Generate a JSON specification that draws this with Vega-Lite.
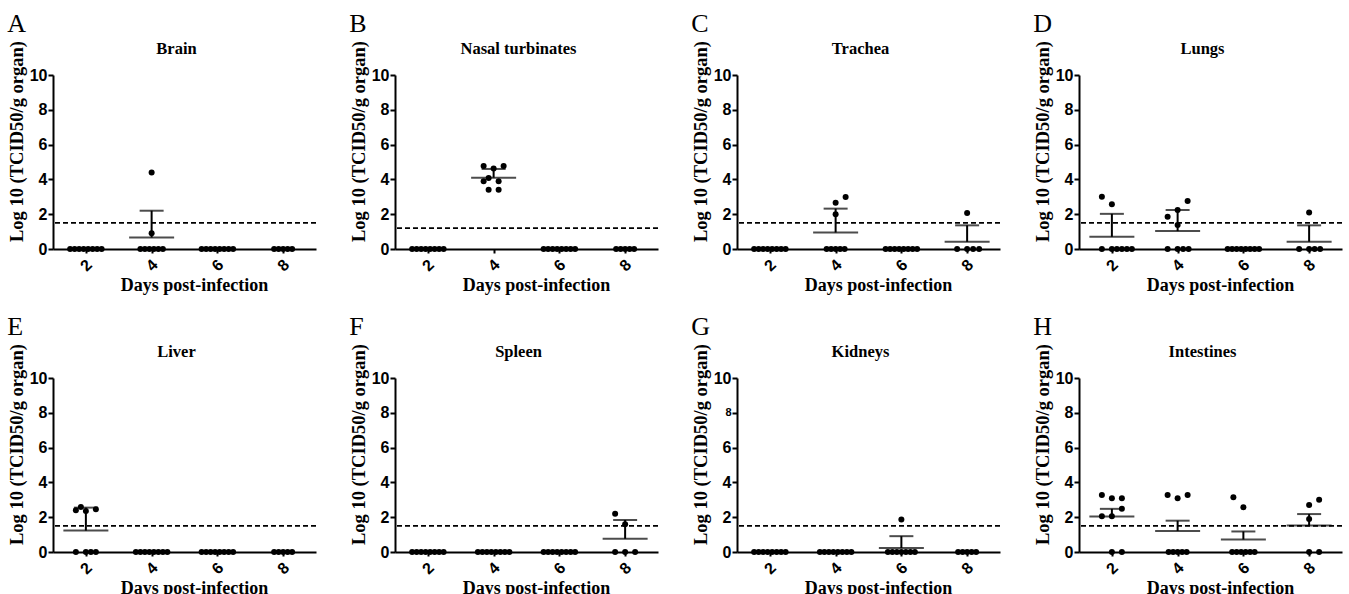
{
"$schema": "https://vega.github.io/schema/vega-lite/v6.json",
"padding": {"left": 7, "top": 10, "right": 5, "bottom": 2},
"background": "white",
"datasets": {
"all": [
{"organ":"Brain","kind":"lod","value":1.5},
{"organ":"Brain","kind":"sum","day":4,"value":0.66,"upper":2.2},
{"organ":"Brain","kind":"pt","day":2,"value":0,"slot":-3.15},{"organ":"Brain","kind":"pt","day":2,"value":0,"slot":-2.25},{"organ":"Brain","kind":"pt","day":2,"value":0,"slot":-1.35},{"organ":"Brain","kind":"pt","day":2,"value":0,"slot":-0.45},{"organ":"Brain","kind":"pt","day":2,"value":0,"slot":0.45},{"organ":"Brain","kind":"pt","day":2,"value":0,"slot":1.35},{"organ":"Brain","kind":"pt","day":2,"value":0,"slot":2.25},{"organ":"Brain","kind":"pt","day":2,"value":0,"slot":3.15},
{"organ":"Brain","kind":"pt","day":4,"value":4.4,"slot":0},{"organ":"Brain","kind":"pt","day":4,"value":0.9,"slot":0},
{"organ":"Brain","kind":"pt","day":4,"value":0,"slot":-2.25},{"organ":"Brain","kind":"pt","day":4,"value":0,"slot":-1.35},{"organ":"Brain","kind":"pt","day":4,"value":0,"slot":-0.45},{"organ":"Brain","kind":"pt","day":4,"value":0,"slot":0.45},{"organ":"Brain","kind":"pt","day":4,"value":0,"slot":1.35},{"organ":"Brain","kind":"pt","day":4,"value":0,"slot":2.25},
{"organ":"Brain","kind":"pt","day":6,"value":0,"slot":-3.15},{"organ":"Brain","kind":"pt","day":6,"value":0,"slot":-2.25},{"organ":"Brain","kind":"pt","day":6,"value":0,"slot":-1.35},{"organ":"Brain","kind":"pt","day":6,"value":0,"slot":-0.45},{"organ":"Brain","kind":"pt","day":6,"value":0,"slot":0.45},{"organ":"Brain","kind":"pt","day":6,"value":0,"slot":1.35},{"organ":"Brain","kind":"pt","day":6,"value":0,"slot":2.25},{"organ":"Brain","kind":"pt","day":6,"value":0,"slot":3.15},
{"organ":"Brain","kind":"pt","day":8,"value":0,"slot":-1.8},{"organ":"Brain","kind":"pt","day":8,"value":0,"slot":-0.9},{"organ":"Brain","kind":"pt","day":8,"value":0,"slot":0},{"organ":"Brain","kind":"pt","day":8,"value":0,"slot":0.9},{"organ":"Brain","kind":"pt","day":8,"value":0,"slot":1.8},

{"organ":"Nasal turbinates","kind":"lod","value":1.2},
{"organ":"Nasal turbinates","kind":"sum","day":4,"value":4.1,"upper":4.6},
{"organ":"Nasal turbinates","kind":"pt","day":2,"value":0,"slot":-3.15},{"organ":"Nasal turbinates","kind":"pt","day":2,"value":0,"slot":-2.25},{"organ":"Nasal turbinates","kind":"pt","day":2,"value":0,"slot":-1.35},{"organ":"Nasal turbinates","kind":"pt","day":2,"value":0,"slot":-0.45},{"organ":"Nasal turbinates","kind":"pt","day":2,"value":0,"slot":0.45},{"organ":"Nasal turbinates","kind":"pt","day":2,"value":0,"slot":1.35},{"organ":"Nasal turbinates","kind":"pt","day":2,"value":0,"slot":2.25},{"organ":"Nasal turbinates","kind":"pt","day":2,"value":0,"slot":3.15},
{"organ":"Nasal turbinates","kind":"pt","day":4,"value":4.77,"slot":-2},{"organ":"Nasal turbinates","kind":"pt","day":4,"value":4.62,"slot":0},{"organ":"Nasal turbinates","kind":"pt","day":4,"value":4.77,"slot":2},{"organ":"Nasal turbinates","kind":"pt","day":4,"value":3.89,"slot":-2},{"organ":"Nasal turbinates","kind":"pt","day":4,"value":4.08,"slot":-1},{"organ":"Nasal turbinates","kind":"pt","day":4,"value":3.89,"slot":1},{"organ":"Nasal turbinates","kind":"pt","day":4,"value":3.41,"slot":-1},{"organ":"Nasal turbinates","kind":"pt","day":4,"value":3.41,"slot":1},
{"organ":"Nasal turbinates","kind":"pt","day":6,"value":0,"slot":-3.15},{"organ":"Nasal turbinates","kind":"pt","day":6,"value":0,"slot":-2.25},{"organ":"Nasal turbinates","kind":"pt","day":6,"value":0,"slot":-1.35},{"organ":"Nasal turbinates","kind":"pt","day":6,"value":0,"slot":-0.45},{"organ":"Nasal turbinates","kind":"pt","day":6,"value":0,"slot":0.45},{"organ":"Nasal turbinates","kind":"pt","day":6,"value":0,"slot":1.35},{"organ":"Nasal turbinates","kind":"pt","day":6,"value":0,"slot":2.25},{"organ":"Nasal turbinates","kind":"pt","day":6,"value":0,"slot":3.15},
{"organ":"Nasal turbinates","kind":"pt","day":8,"value":0,"slot":-1.8},{"organ":"Nasal turbinates","kind":"pt","day":8,"value":0,"slot":-0.9},{"organ":"Nasal turbinates","kind":"pt","day":8,"value":0,"slot":0},{"organ":"Nasal turbinates","kind":"pt","day":8,"value":0,"slot":0.9},{"organ":"Nasal turbinates","kind":"pt","day":8,"value":0,"slot":1.8},

{"organ":"Trachea","kind":"lod","value":1.5},
{"organ":"Trachea","kind":"sum","day":4,"value":0.95,"upper":2.32},
{"organ":"Trachea","kind":"sum","day":8,"value":0.41,"upper":1.36},
{"organ":"Trachea","kind":"pt","day":2,"value":0,"slot":-3.15},{"organ":"Trachea","kind":"pt","day":2,"value":0,"slot":-2.25},{"organ":"Trachea","kind":"pt","day":2,"value":0,"slot":-1.35},{"organ":"Trachea","kind":"pt","day":2,"value":0,"slot":-0.45},{"organ":"Trachea","kind":"pt","day":2,"value":0,"slot":0.45},{"organ":"Trachea","kind":"pt","day":2,"value":0,"slot":1.35},{"organ":"Trachea","kind":"pt","day":2,"value":0,"slot":2.25},{"organ":"Trachea","kind":"pt","day":2,"value":0,"slot":3.15},
{"organ":"Trachea","kind":"pt","day":4,"value":2.99,"slot":2},{"organ":"Trachea","kind":"pt","day":4,"value":2.66,"slot":0},{"organ":"Trachea","kind":"pt","day":4,"value":1.99,"slot":0},
{"organ":"Trachea","kind":"pt","day":4,"value":0,"slot":-1.8},{"organ":"Trachea","kind":"pt","day":4,"value":0,"slot":-0.9},{"organ":"Trachea","kind":"pt","day":4,"value":0,"slot":0},{"organ":"Trachea","kind":"pt","day":4,"value":0,"slot":0.9},{"organ":"Trachea","kind":"pt","day":4,"value":0,"slot":1.8},
{"organ":"Trachea","kind":"pt","day":6,"value":0,"slot":-3.15},{"organ":"Trachea","kind":"pt","day":6,"value":0,"slot":-2.25},{"organ":"Trachea","kind":"pt","day":6,"value":0,"slot":-1.35},{"organ":"Trachea","kind":"pt","day":6,"value":0,"slot":-0.45},{"organ":"Trachea","kind":"pt","day":6,"value":0,"slot":0.45},{"organ":"Trachea","kind":"pt","day":6,"value":0,"slot":1.35},{"organ":"Trachea","kind":"pt","day":6,"value":0,"slot":2.25},{"organ":"Trachea","kind":"pt","day":6,"value":0,"slot":3.15},
{"organ":"Trachea","kind":"pt","day":8,"value":2.07,"slot":0},
{"organ":"Trachea","kind":"pt","day":8,"value":0,"slot":-2},{"organ":"Trachea","kind":"pt","day":8,"value":0,"slot":0},{"organ":"Trachea","kind":"pt","day":8,"value":0,"slot":1.2},{"organ":"Trachea","kind":"pt","day":8,"value":0,"slot":2.4},

{"organ":"Lungs","kind":"lod","value":1.5},
{"organ":"Lungs","kind":"sum","day":2,"value":0.7,"upper":2.02},
{"organ":"Lungs","kind":"sum","day":4,"value":1.03,"upper":2.24},
{"organ":"Lungs","kind":"sum","day":8,"value":0.42,"upper":1.36},
{"organ":"Lungs","kind":"pt","day":2,"value":3.0,"slot":-2},{"organ":"Lungs","kind":"pt","day":2,"value":2.57,"slot":0},
{"organ":"Lungs","kind":"pt","day":2,"value":0,"slot":-2},{"organ":"Lungs","kind":"pt","day":2,"value":0,"slot":0},{"organ":"Lungs","kind":"pt","day":2,"value":0,"slot":1},{"organ":"Lungs","kind":"pt","day":2,"value":0,"slot":2},{"organ":"Lungs","kind":"pt","day":2,"value":0,"slot":3},{"organ":"Lungs","kind":"pt","day":2,"value":0,"slot":4},
{"organ":"Lungs","kind":"pt","day":4,"value":2.76,"slot":2},{"organ":"Lungs","kind":"pt","day":4,"value":2.24,"slot":0},{"organ":"Lungs","kind":"pt","day":4,"value":1.86,"slot":-2},{"organ":"Lungs","kind":"pt","day":4,"value":1.38,"slot":0},
{"organ":"Lungs","kind":"pt","day":4,"value":0,"slot":-2},{"organ":"Lungs","kind":"pt","day":4,"value":0,"slot":0},{"organ":"Lungs","kind":"pt","day":4,"value":0,"slot":1.1},{"organ":"Lungs","kind":"pt","day":4,"value":0,"slot":2.2},
{"organ":"Lungs","kind":"pt","day":6,"value":0,"slot":-3.15},{"organ":"Lungs","kind":"pt","day":6,"value":0,"slot":-2.25},{"organ":"Lungs","kind":"pt","day":6,"value":0,"slot":-1.35},{"organ":"Lungs","kind":"pt","day":6,"value":0,"slot":-0.45},{"organ":"Lungs","kind":"pt","day":6,"value":0,"slot":0.45},{"organ":"Lungs","kind":"pt","day":6,"value":0,"slot":1.35},{"organ":"Lungs","kind":"pt","day":6,"value":0,"slot":2.25},{"organ":"Lungs","kind":"pt","day":6,"value":0,"slot":3.15},
{"organ":"Lungs","kind":"pt","day":8,"value":2.1,"slot":0},
{"organ":"Lungs","kind":"pt","day":8,"value":0,"slot":-2},{"organ":"Lungs","kind":"pt","day":8,"value":0,"slot":0},{"organ":"Lungs","kind":"pt","day":8,"value":0,"slot":1.1},{"organ":"Lungs","kind":"pt","day":8,"value":0,"slot":2.2},

{"organ":"Liver","kind":"lod","value":1.5},
{"organ":"Liver","kind":"sum","day":2,"value":1.23,"upper":2.55},
{"organ":"Liver","kind":"pt","day":2,"value":2.4,"slot":-2},{"organ":"Liver","kind":"pt","day":2,"value":2.59,"slot":-1},{"organ":"Liver","kind":"pt","day":2,"value":2.36,"slot":0},{"organ":"Liver","kind":"pt","day":2,"value":2.46,"slot":2},
{"organ":"Liver","kind":"pt","day":2,"value":0,"slot":-2},{"organ":"Liver","kind":"pt","day":2,"value":0,"slot":0},{"organ":"Liver","kind":"pt","day":2,"value":0,"slot":1},{"organ":"Liver","kind":"pt","day":2,"value":0,"slot":2},
{"organ":"Liver","kind":"pt","day":4,"value":0,"slot":-3.15},{"organ":"Liver","kind":"pt","day":4,"value":0,"slot":-2.25},{"organ":"Liver","kind":"pt","day":4,"value":0,"slot":-1.35},{"organ":"Liver","kind":"pt","day":4,"value":0,"slot":-0.45},{"organ":"Liver","kind":"pt","day":4,"value":0,"slot":0.45},{"organ":"Liver","kind":"pt","day":4,"value":0,"slot":1.35},{"organ":"Liver","kind":"pt","day":4,"value":0,"slot":2.25},{"organ":"Liver","kind":"pt","day":4,"value":0,"slot":3.15},
{"organ":"Liver","kind":"pt","day":6,"value":0,"slot":-3.15},{"organ":"Liver","kind":"pt","day":6,"value":0,"slot":-2.25},{"organ":"Liver","kind":"pt","day":6,"value":0,"slot":-1.35},{"organ":"Liver","kind":"pt","day":6,"value":0,"slot":-0.45},{"organ":"Liver","kind":"pt","day":6,"value":0,"slot":0.45},{"organ":"Liver","kind":"pt","day":6,"value":0,"slot":1.35},{"organ":"Liver","kind":"pt","day":6,"value":0,"slot":2.25},{"organ":"Liver","kind":"pt","day":6,"value":0,"slot":3.15},
{"organ":"Liver","kind":"pt","day":8,"value":0,"slot":-1.8},{"organ":"Liver","kind":"pt","day":8,"value":0,"slot":-0.9},{"organ":"Liver","kind":"pt","day":8,"value":0,"slot":0},{"organ":"Liver","kind":"pt","day":8,"value":0,"slot":0.9},{"organ":"Liver","kind":"pt","day":8,"value":0,"slot":1.8},

{"organ":"Spleen","kind":"lod","value":1.5},
{"organ":"Spleen","kind":"sum","day":8,"value":0.76,"upper":1.84},
{"organ":"Spleen","kind":"pt","day":2,"value":0,"slot":-3.15},{"organ":"Spleen","kind":"pt","day":2,"value":0,"slot":-2.25},{"organ":"Spleen","kind":"pt","day":2,"value":0,"slot":-1.35},{"organ":"Spleen","kind":"pt","day":2,"value":0,"slot":-0.45},{"organ":"Spleen","kind":"pt","day":2,"value":0,"slot":0.45},{"organ":"Spleen","kind":"pt","day":2,"value":0,"slot":1.35},{"organ":"Spleen","kind":"pt","day":2,"value":0,"slot":2.25},{"organ":"Spleen","kind":"pt","day":2,"value":0,"slot":3.15},
{"organ":"Spleen","kind":"pt","day":4,"value":0,"slot":-3.15},{"organ":"Spleen","kind":"pt","day":4,"value":0,"slot":-2.25},{"organ":"Spleen","kind":"pt","day":4,"value":0,"slot":-1.35},{"organ":"Spleen","kind":"pt","day":4,"value":0,"slot":-0.45},{"organ":"Spleen","kind":"pt","day":4,"value":0,"slot":0.45},{"organ":"Spleen","kind":"pt","day":4,"value":0,"slot":1.35},{"organ":"Spleen","kind":"pt","day":4,"value":0,"slot":2.25},{"organ":"Spleen","kind":"pt","day":4,"value":0,"slot":3.15},
{"organ":"Spleen","kind":"pt","day":6,"value":0,"slot":-3.15},{"organ":"Spleen","kind":"pt","day":6,"value":0,"slot":-2.25},{"organ":"Spleen","kind":"pt","day":6,"value":0,"slot":-1.35},{"organ":"Spleen","kind":"pt","day":6,"value":0,"slot":-0.45},{"organ":"Spleen","kind":"pt","day":6,"value":0,"slot":0.45},{"organ":"Spleen","kind":"pt","day":6,"value":0,"slot":1.35},{"organ":"Spleen","kind":"pt","day":6,"value":0,"slot":2.25},{"organ":"Spleen","kind":"pt","day":6,"value":0,"slot":3.15},
{"organ":"Spleen","kind":"pt","day":8,"value":2.2,"slot":-2},{"organ":"Spleen","kind":"pt","day":8,"value":1.6,"slot":0},
{"organ":"Spleen","kind":"pt","day":8,"value":0,"slot":-2},{"organ":"Spleen","kind":"pt","day":8,"value":0,"slot":0},{"organ":"Spleen","kind":"pt","day":8,"value":0,"slot":2},

{"organ":"Kidneys","kind":"lod","value":1.5},
{"organ":"Kidneys","kind":"sum","day":6,"value":0.23,"upper":0.91},
{"organ":"Kidneys","kind":"pt","day":2,"value":0,"slot":-3.15},{"organ":"Kidneys","kind":"pt","day":2,"value":0,"slot":-2.25},{"organ":"Kidneys","kind":"pt","day":2,"value":0,"slot":-1.35},{"organ":"Kidneys","kind":"pt","day":2,"value":0,"slot":-0.45},{"organ":"Kidneys","kind":"pt","day":2,"value":0,"slot":0.45},{"organ":"Kidneys","kind":"pt","day":2,"value":0,"slot":1.35},{"organ":"Kidneys","kind":"pt","day":2,"value":0,"slot":2.25},{"organ":"Kidneys","kind":"pt","day":2,"value":0,"slot":3.15},
{"organ":"Kidneys","kind":"pt","day":4,"value":0,"slot":-3.15},{"organ":"Kidneys","kind":"pt","day":4,"value":0,"slot":-2.25},{"organ":"Kidneys","kind":"pt","day":4,"value":0,"slot":-1.35},{"organ":"Kidneys","kind":"pt","day":4,"value":0,"slot":-0.45},{"organ":"Kidneys","kind":"pt","day":4,"value":0,"slot":0.45},{"organ":"Kidneys","kind":"pt","day":4,"value":0,"slot":1.35},{"organ":"Kidneys","kind":"pt","day":4,"value":0,"slot":2.25},{"organ":"Kidneys","kind":"pt","day":4,"value":0,"slot":3.15},
{"organ":"Kidneys","kind":"pt","day":6,"value":1.87,"slot":0},
{"organ":"Kidneys","kind":"pt","day":6,"value":0,"slot":-2.7},{"organ":"Kidneys","kind":"pt","day":6,"value":0,"slot":-1.8},{"organ":"Kidneys","kind":"pt","day":6,"value":0,"slot":-0.9},{"organ":"Kidneys","kind":"pt","day":6,"value":0,"slot":0},{"organ":"Kidneys","kind":"pt","day":6,"value":0,"slot":0.9},{"organ":"Kidneys","kind":"pt","day":6,"value":0,"slot":1.8},{"organ":"Kidneys","kind":"pt","day":6,"value":0,"slot":2.7},
{"organ":"Kidneys","kind":"pt","day":8,"value":0,"slot":-1.8},{"organ":"Kidneys","kind":"pt","day":8,"value":0,"slot":-0.9},{"organ":"Kidneys","kind":"pt","day":8,"value":0,"slot":0},{"organ":"Kidneys","kind":"pt","day":8,"value":0,"slot":0.9},{"organ":"Kidneys","kind":"pt","day":8,"value":0,"slot":1.8},

{"organ":"Intestines","kind":"lod","value":1.5},
{"organ":"Intestines","kind":"sum","day":2,"value":2.04,"upper":2.48},
{"organ":"Intestines","kind":"sum","day":4,"value":1.21,"upper":1.8},
{"organ":"Intestines","kind":"sum","day":6,"value":0.72,"upper":1.18},
{"organ":"Intestines","kind":"sum","day":8,"value":1.52,"upper":2.18},
{"organ":"Intestines","kind":"pt","day":2,"value":3.28,"slot":-2},{"organ":"Intestines","kind":"pt","day":2,"value":3.09,"slot":0},{"organ":"Intestines","kind":"pt","day":2,"value":3.09,"slot":2},{"organ":"Intestines","kind":"pt","day":2,"value":2.48,"slot":2},{"organ":"Intestines","kind":"pt","day":2,"value":2.06,"slot":-2},{"organ":"Intestines","kind":"pt","day":2,"value":2.06,"slot":0},{"organ":"Intestines","kind":"pt","day":2,"value":0,"slot":0},{"organ":"Intestines","kind":"pt","day":2,"value":0,"slot":2},
{"organ":"Intestines","kind":"pt","day":4,"value":3.28,"slot":-2},{"organ":"Intestines","kind":"pt","day":4,"value":3.09,"slot":0},{"organ":"Intestines","kind":"pt","day":4,"value":3.28,"slot":2},
{"organ":"Intestines","kind":"pt","day":4,"value":0,"slot":-1.8},{"organ":"Intestines","kind":"pt","day":4,"value":0,"slot":-0.9},{"organ":"Intestines","kind":"pt","day":4,"value":0,"slot":0},{"organ":"Intestines","kind":"pt","day":4,"value":0,"slot":0.9},{"organ":"Intestines","kind":"pt","day":4,"value":0,"slot":1.8},
{"organ":"Intestines","kind":"pt","day":6,"value":3.14,"slot":-2},{"organ":"Intestines","kind":"pt","day":6,"value":2.57,"slot":0},
{"organ":"Intestines","kind":"pt","day":6,"value":0,"slot":-2.25},{"organ":"Intestines","kind":"pt","day":6,"value":0,"slot":-1.35},{"organ":"Intestines","kind":"pt","day":6,"value":0,"slot":-0.45},{"organ":"Intestines","kind":"pt","day":6,"value":0,"slot":0.45},{"organ":"Intestines","kind":"pt","day":6,"value":0,"slot":1.35},{"organ":"Intestines","kind":"pt","day":6,"value":0,"slot":2.25},
{"organ":"Intestines","kind":"pt","day":8,"value":3.0,"slot":2},{"organ":"Intestines","kind":"pt","day":8,"value":2.7,"slot":0},{"organ":"Intestines","kind":"pt","day":8,"value":1.9,"slot":0},{"organ":"Intestines","kind":"pt","day":8,"value":0,"slot":0},{"organ":"Intestines","kind":"pt","day":8,"value":0,"slot":2}
]
},
"data": {"name": "all"},
"columns": 4,
"spacing": {"row": 18, "column": 32},
"concat": [
{"title": {"text": "A"}, "vconcat": [{"title": {"text": "Brain", "fontSize": 16.5, "fontWeight": "bold", "anchor": "middle", "frame": "group", "offset": -17, "dx": -8}, "width": 263, "height": 174, "transform": [{"filter": "datum.organ == 'Brain'"}],
 "encoding": {"y": {"field": "value", "type": "quantitative", "scale": {"domain": [0, 10]}, "title": "Log 10 (TCID50/g organ)"}},
 "layer": [
  {"transform": [{"filter": "datum.kind == 'lod'"}], "mark": {"type": "rule", "strokeDash": [5, 3], "strokeWidth": 1.6, "color": "black"}, "encoding": {}},
  {"transform": [{"filter": "datum.kind == 'pt'"}], "mark": {"type": "circle", "size": 36, "opacity": 1, "color": "black"}, "encoding": {"x": {"field": "day", "type": "ordinal", "scale": {"type": "point", "padding": 0.5, "domain": [2, 4, 6, 8]}, "title": "Days post-infection"}, "xOffset": {"field": "slot", "type": "quantitative", "scale": {"domain": [-1, 1], "range": [-5, 5]}}}},
  {"transform": [{"filter": "datum.kind == 'sum'"}], "mark": {"type": "tick", "orient": "horizontal", "size": 45, "thickness": 2, "color": "black"}, "encoding": {"x": {"field": "day", "type": "ordinal", "scale": {"type": "point", "padding": 0.5, "domain": [2, 4, 6, 8]}, "title": "Days post-infection"}}},
  {"transform": [{"filter": "datum.kind == 'sum'"}], "mark": {"type": "rule", "strokeWidth": 2, "color": "black"}, "encoding": {"x": {"field": "day", "type": "ordinal", "scale": {"type": "point", "padding": 0.5, "domain": [2, 4, 6, 8]}, "title": "Days post-infection"}, "y2": {"field": "upper"}}},
  {"transform": [{"filter": "datum.kind == 'sum'"}], "mark": {"type": "tick", "orient": "horizontal", "size": 24, "thickness": 2, "color": "black"}, "encoding": {"x": {"field": "day", "type": "ordinal", "scale": {"type": "point", "padding": 0.5, "domain": [2, 4, 6, 8]}, "title": "Days post-infection"}, "y": {"field": "upper", "type": "quantitative", "scale": {"domain": [0, 10]}, "title": "Log 10 (TCID50/g organ)"}}}
 ]}]},
{"title": {"text": "B"}, "vconcat": [{"title": {"text": "Nasal turbinates", "fontSize": 16.5, "fontWeight": "bold", "anchor": "middle", "frame": "group", "offset": -17, "dx": -8}, "width": 263, "height": 174, "transform": [{"filter": "datum.organ == 'Nasal turbinates'"}],
 "encoding": {"y": {"field": "value", "type": "quantitative", "scale": {"domain": [0, 10]}, "title": "Log 10 (TCID50/g organ)"}},
 "layer": [
  {"transform": [{"filter": "datum.kind == 'lod'"}], "mark": {"type": "rule", "strokeDash": [5, 3], "strokeWidth": 1.6, "color": "black"}, "encoding": {}},
  {"transform": [{"filter": "datum.kind == 'pt'"}], "mark": {"type": "circle", "size": 36, "opacity": 1, "color": "black"}, "encoding": {"x": {"field": "day", "type": "ordinal", "scale": {"type": "point", "padding": 0.5, "domain": [2, 4, 6, 8]}, "title": "Days post-infection"}, "xOffset": {"field": "slot", "type": "quantitative", "scale": {"domain": [-1, 1], "range": [-5, 5]}}}},
  {"transform": [{"filter": "datum.kind == 'sum'"}], "mark": {"type": "tick", "orient": "horizontal", "size": 45, "thickness": 2, "color": "black"}, "encoding": {"x": {"field": "day", "type": "ordinal", "scale": {"type": "point", "padding": 0.5, "domain": [2, 4, 6, 8]}, "title": "Days post-infection"}}},
  {"transform": [{"filter": "datum.kind == 'sum'"}], "mark": {"type": "rule", "strokeWidth": 2, "color": "black"}, "encoding": {"x": {"field": "day", "type": "ordinal", "scale": {"type": "point", "padding": 0.5, "domain": [2, 4, 6, 8]}, "title": "Days post-infection"}, "y2": {"field": "upper"}}},
  {"transform": [{"filter": "datum.kind == 'sum'"}], "mark": {"type": "tick", "orient": "horizontal", "size": 24, "thickness": 2, "color": "black"}, "encoding": {"x": {"field": "day", "type": "ordinal", "scale": {"type": "point", "padding": 0.5, "domain": [2, 4, 6, 8]}, "title": "Days post-infection"}, "y": {"field": "upper", "type": "quantitative", "scale": {"domain": [0, 10]}, "title": "Log 10 (TCID50/g organ)"}}}
 ]}]},
{"title": {"text": "C"}, "vconcat": [{"title": {"text": "Trachea", "fontSize": 16.5, "fontWeight": "bold", "anchor": "middle", "frame": "group", "offset": -17, "dx": -8}, "width": 263, "height": 174, "transform": [{"filter": "datum.organ == 'Trachea'"}],
 "encoding": {"y": {"field": "value", "type": "quantitative", "scale": {"domain": [0, 10]}, "title": "Log 10 (TCID50/g organ)"}},
 "layer": [
  {"transform": [{"filter": "datum.kind == 'lod'"}], "mark": {"type": "rule", "strokeDash": [5, 3], "strokeWidth": 1.6, "color": "black"}, "encoding": {}},
  {"transform": [{"filter": "datum.kind == 'pt'"}], "mark": {"type": "circle", "size": 36, "opacity": 1, "color": "black"}, "encoding": {"x": {"field": "day", "type": "ordinal", "scale": {"type": "point", "padding": 0.5, "domain": [2, 4, 6, 8]}, "title": "Days post-infection"}, "xOffset": {"field": "slot", "type": "quantitative", "scale": {"domain": [-1, 1], "range": [-5, 5]}}}},
  {"transform": [{"filter": "datum.kind == 'sum'"}], "mark": {"type": "tick", "orient": "horizontal", "size": 45, "thickness": 2, "color": "black"}, "encoding": {"x": {"field": "day", "type": "ordinal", "scale": {"type": "point", "padding": 0.5, "domain": [2, 4, 6, 8]}, "title": "Days post-infection"}}},
  {"transform": [{"filter": "datum.kind == 'sum'"}], "mark": {"type": "rule", "strokeWidth": 2, "color": "black"}, "encoding": {"x": {"field": "day", "type": "ordinal", "scale": {"type": "point", "padding": 0.5, "domain": [2, 4, 6, 8]}, "title": "Days post-infection"}, "y2": {"field": "upper"}}},
  {"transform": [{"filter": "datum.kind == 'sum'"}], "mark": {"type": "tick", "orient": "horizontal", "size": 24, "thickness": 2, "color": "black"}, "encoding": {"x": {"field": "day", "type": "ordinal", "scale": {"type": "point", "padding": 0.5, "domain": [2, 4, 6, 8]}, "title": "Days post-infection"}, "y": {"field": "upper", "type": "quantitative", "scale": {"domain": [0, 10]}, "title": "Log 10 (TCID50/g organ)"}}}
 ]}]},
{"title": {"text": "D"}, "vconcat": [{"title": {"text": "Lungs", "fontSize": 16.5, "fontWeight": "bold", "anchor": "middle", "frame": "group", "offset": -17, "dx": -8}, "width": 263, "height": 174, "transform": [{"filter": "datum.organ == 'Lungs'"}],
 "encoding": {"y": {"field": "value", "type": "quantitative", "scale": {"domain": [0, 10]}, "title": "Log 10 (TCID50/g organ)"}},
 "layer": [
  {"transform": [{"filter": "datum.kind == 'lod'"}], "mark": {"type": "rule", "strokeDash": [5, 3], "strokeWidth": 1.6, "color": "black"}, "encoding": {}},
  {"transform": [{"filter": "datum.kind == 'pt'"}], "mark": {"type": "circle", "size": 36, "opacity": 1, "color": "black"}, "encoding": {"x": {"field": "day", "type": "ordinal", "scale": {"type": "point", "padding": 0.5, "domain": [2, 4, 6, 8]}, "title": "Days post-infection"}, "xOffset": {"field": "slot", "type": "quantitative", "scale": {"domain": [-1, 1], "range": [-5, 5]}}}},
  {"transform": [{"filter": "datum.kind == 'sum'"}], "mark": {"type": "tick", "orient": "horizontal", "size": 45, "thickness": 2, "color": "black"}, "encoding": {"x": {"field": "day", "type": "ordinal", "scale": {"type": "point", "padding": 0.5, "domain": [2, 4, 6, 8]}, "title": "Days post-infection"}}},
  {"transform": [{"filter": "datum.kind == 'sum'"}], "mark": {"type": "rule", "strokeWidth": 2, "color": "black"}, "encoding": {"x": {"field": "day", "type": "ordinal", "scale": {"type": "point", "padding": 0.5, "domain": [2, 4, 6, 8]}, "title": "Days post-infection"}, "y2": {"field": "upper"}}},
  {"transform": [{"filter": "datum.kind == 'sum'"}], "mark": {"type": "tick", "orient": "horizontal", "size": 24, "thickness": 2, "color": "black"}, "encoding": {"x": {"field": "day", "type": "ordinal", "scale": {"type": "point", "padding": 0.5, "domain": [2, 4, 6, 8]}, "title": "Days post-infection"}, "y": {"field": "upper", "type": "quantitative", "scale": {"domain": [0, 10]}, "title": "Log 10 (TCID50/g organ)"}}}
 ]}]},
{"title": {"text": "E"}, "vconcat": [{"title": {"text": "Liver", "fontSize": 16.5, "fontWeight": "bold", "anchor": "middle", "frame": "group", "offset": -17, "dx": -8}, "width": 263, "height": 174, "transform": [{"filter": "datum.organ == 'Liver'"}],
 "encoding": {"y": {"field": "value", "type": "quantitative", "scale": {"domain": [0, 10]}, "title": "Log 10 (TCID50/g organ)"}},
 "layer": [
  {"transform": [{"filter": "datum.kind == 'lod'"}], "mark": {"type": "rule", "strokeDash": [5, 3], "strokeWidth": 1.6, "color": "black"}, "encoding": {}},
  {"transform": [{"filter": "datum.kind == 'pt'"}], "mark": {"type": "circle", "size": 36, "opacity": 1, "color": "black"}, "encoding": {"x": {"field": "day", "type": "ordinal", "scale": {"type": "point", "padding": 0.5, "domain": [2, 4, 6, 8]}, "title": "Days post-infection"}, "xOffset": {"field": "slot", "type": "quantitative", "scale": {"domain": [-1, 1], "range": [-5, 5]}}}},
  {"transform": [{"filter": "datum.kind == 'sum'"}], "mark": {"type": "tick", "orient": "horizontal", "size": 45, "thickness": 2, "color": "black"}, "encoding": {"x": {"field": "day", "type": "ordinal", "scale": {"type": "point", "padding": 0.5, "domain": [2, 4, 6, 8]}, "title": "Days post-infection"}}},
  {"transform": [{"filter": "datum.kind == 'sum'"}], "mark": {"type": "rule", "strokeWidth": 2, "color": "black"}, "encoding": {"x": {"field": "day", "type": "ordinal", "scale": {"type": "point", "padding": 0.5, "domain": [2, 4, 6, 8]}, "title": "Days post-infection"}, "y2": {"field": "upper"}}},
  {"transform": [{"filter": "datum.kind == 'sum'"}], "mark": {"type": "tick", "orient": "horizontal", "size": 24, "thickness": 2, "color": "black"}, "encoding": {"x": {"field": "day", "type": "ordinal", "scale": {"type": "point", "padding": 0.5, "domain": [2, 4, 6, 8]}, "title": "Days post-infection"}, "y": {"field": "upper", "type": "quantitative", "scale": {"domain": [0, 10]}, "title": "Log 10 (TCID50/g organ)"}}}
 ]}]},
{"title": {"text": "F"}, "vconcat": [{"title": {"text": "Spleen", "fontSize": 16.5, "fontWeight": "bold", "anchor": "middle", "frame": "group", "offset": -17, "dx": -8}, "width": 263, "height": 174, "transform": [{"filter": "datum.organ == 'Spleen'"}],
 "encoding": {"y": {"field": "value", "type": "quantitative", "scale": {"domain": [0, 10]}, "title": "Log 10 (TCID50/g organ)"}},
 "layer": [
  {"transform": [{"filter": "datum.kind == 'lod'"}], "mark": {"type": "rule", "strokeDash": [5, 3], "strokeWidth": 1.6, "color": "black"}, "encoding": {}},
  {"transform": [{"filter": "datum.kind == 'pt'"}], "mark": {"type": "circle", "size": 36, "opacity": 1, "color": "black"}, "encoding": {"x": {"field": "day", "type": "ordinal", "scale": {"type": "point", "padding": 0.5, "domain": [2, 4, 6, 8]}, "title": "Days post-infection"}, "xOffset": {"field": "slot", "type": "quantitative", "scale": {"domain": [-1, 1], "range": [-5, 5]}}}},
  {"transform": [{"filter": "datum.kind == 'sum'"}], "mark": {"type": "tick", "orient": "horizontal", "size": 45, "thickness": 2, "color": "black"}, "encoding": {"x": {"field": "day", "type": "ordinal", "scale": {"type": "point", "padding": 0.5, "domain": [2, 4, 6, 8]}, "title": "Days post-infection"}}},
  {"transform": [{"filter": "datum.kind == 'sum'"}], "mark": {"type": "rule", "strokeWidth": 2, "color": "black"}, "encoding": {"x": {"field": "day", "type": "ordinal", "scale": {"type": "point", "padding": 0.5, "domain": [2, 4, 6, 8]}, "title": "Days post-infection"}, "y2": {"field": "upper"}}},
  {"transform": [{"filter": "datum.kind == 'sum'"}], "mark": {"type": "tick", "orient": "horizontal", "size": 24, "thickness": 2, "color": "black"}, "encoding": {"x": {"field": "day", "type": "ordinal", "scale": {"type": "point", "padding": 0.5, "domain": [2, 4, 6, 8]}, "title": "Days post-infection"}, "y": {"field": "upper", "type": "quantitative", "scale": {"domain": [0, 10]}, "title": "Log 10 (TCID50/g organ)"}}}
 ]}]},
{"title": {"text": "G"}, "vconcat": [{"title": {"text": "Kidneys", "fontSize": 16.5, "fontWeight": "bold", "anchor": "middle", "frame": "group", "offset": -17, "dx": -8}, "width": 263, "height": 174, "transform": [{"filter": "datum.organ == 'Kidneys'"}],
 "encoding": {"y": {"field": "value", "type": "quantitative", "scale": {"domain": [0, 10]}, "title": "Log 10 (TCID50/g organ)", "axis": {"labelFontSize": {"condition": {"test": "datum.value == 8", "value": 11}, "value": 16}}}},
 "layer": [
  {"transform": [{"filter": "datum.kind == 'lod'"}], "mark": {"type": "rule", "strokeDash": [5, 3], "strokeWidth": 1.6, "color": "black"}, "encoding": {}},
  {"transform": [{"filter": "datum.kind == 'pt'"}], "mark": {"type": "circle", "size": 36, "opacity": 1, "color": "black"}, "encoding": {"x": {"field": "day", "type": "ordinal", "scale": {"type": "point", "padding": 0.5, "domain": [2, 4, 6, 8]}, "title": "Days post-infection"}, "xOffset": {"field": "slot", "type": "quantitative", "scale": {"domain": [-1, 1], "range": [-5, 5]}}}},
  {"transform": [{"filter": "datum.kind == 'sum'"}], "mark": {"type": "tick", "orient": "horizontal", "size": 45, "thickness": 2, "color": "black"}, "encoding": {"x": {"field": "day", "type": "ordinal", "scale": {"type": "point", "padding": 0.5, "domain": [2, 4, 6, 8]}, "title": "Days post-infection"}}},
  {"transform": [{"filter": "datum.kind == 'sum'"}], "mark": {"type": "rule", "strokeWidth": 2, "color": "black"}, "encoding": {"x": {"field": "day", "type": "ordinal", "scale": {"type": "point", "padding": 0.5, "domain": [2, 4, 6, 8]}, "title": "Days post-infection"}, "y2": {"field": "upper"}}},
  {"transform": [{"filter": "datum.kind == 'sum'"}], "mark": {"type": "tick", "orient": "horizontal", "size": 24, "thickness": 2, "color": "black"}, "encoding": {"x": {"field": "day", "type": "ordinal", "scale": {"type": "point", "padding": 0.5, "domain": [2, 4, 6, 8]}, "title": "Days post-infection"}, "y": {"field": "upper", "type": "quantitative", "scale": {"domain": [0, 10]}, "title": "Log 10 (TCID50/g organ)"}}}
 ]}]},
{"title": {"text": "H"}, "vconcat": [{"title": {"text": "Intestines", "fontSize": 16.5, "fontWeight": "bold", "anchor": "middle", "frame": "group", "offset": -17, "dx": -8}, "width": 263, "height": 174, "transform": [{"filter": "datum.organ == 'Intestines'"}],
 "encoding": {"y": {"field": "value", "type": "quantitative", "scale": {"domain": [0, 10]}, "title": "Log 10 (TCID50/g organ)"}},
 "layer": [
  {"transform": [{"filter": "datum.kind == 'lod'"}], "mark": {"type": "rule", "strokeDash": [5, 3], "strokeWidth": 1.6, "color": "black"}, "encoding": {}},
  {"transform": [{"filter": "datum.kind == 'pt'"}], "mark": {"type": "circle", "size": 36, "opacity": 1, "color": "black"}, "encoding": {"x": {"field": "day", "type": "ordinal", "scale": {"type": "point", "padding": 0.5, "domain": [2, 4, 6, 8]}, "title": "Days post-infection"}, "xOffset": {"field": "slot", "type": "quantitative", "scale": {"domain": [-1, 1], "range": [-5, 5]}}}},
  {"transform": [{"filter": "datum.kind == 'sum'"}], "mark": {"type": "tick", "orient": "horizontal", "size": 45, "thickness": 2, "color": "black"}, "encoding": {"x": {"field": "day", "type": "ordinal", "scale": {"type": "point", "padding": 0.5, "domain": [2, 4, 6, 8]}, "title": "Days post-infection"}}},
  {"transform": [{"filter": "datum.kind == 'sum'"}], "mark": {"type": "rule", "strokeWidth": 2, "color": "black"}, "encoding": {"x": {"field": "day", "type": "ordinal", "scale": {"type": "point", "padding": 0.5, "domain": [2, 4, 6, 8]}, "title": "Days post-infection"}, "y2": {"field": "upper"}}},
  {"transform": [{"filter": "datum.kind == 'sum'"}], "mark": {"type": "tick", "orient": "horizontal", "size": 24, "thickness": 2, "color": "black"}, "encoding": {"x": {"field": "day", "type": "ordinal", "scale": {"type": "point", "padding": 0.5, "domain": [2, 4, 6, 8]}, "title": "Days post-infection"}, "y": {"field": "upper", "type": "quantitative", "scale": {"domain": [0, 10]}, "title": "Log 10 (TCID50/g organ)"}}}
 ]}]}
],
"config": {
 "view": {"stroke": null},
 "axis": {"grid": false, "domainColor": "black", "domainWidth": 2, "tickColor": "black", "tickWidth": 2, "labelColor": "black", "labelFont": "Liberation Sans", "labelFontWeight": "bold", "labelFontSize": 16, "titleFont": "Liberation Serif", "titleFontWeight": "bold", "titleFontSize": 18, "titleColor": "black"},
 "axisX": {"labelAngle": -45, "labelAlign": "center", "labelBaseline": "middle", "labelPadding": 12, "tickSize": 4, "titlePadding": 3, "titleX": 141},
 "axisY": {"tickSize": 5, "labelPadding": 1, "titlePadding": 3, "titleY": 66, "titleFontSize": 18.5},
 "title": {"font": "Liberation Serif", "fontWeight": "normal", "fontSize": 26, "color": "black", "anchor": "start", "frame": "bounds", "offset": 0}
}
}
